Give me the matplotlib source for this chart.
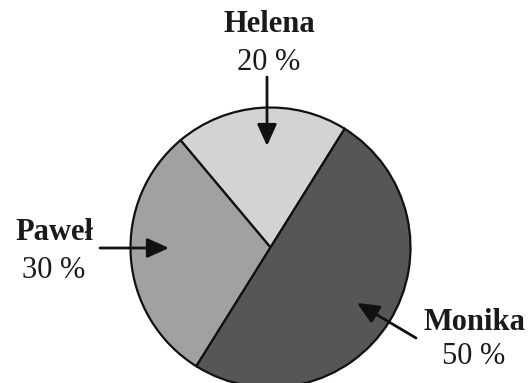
import matplotlib
matplotlib.use("Agg")
import matplotlib.pyplot as plt

names = ["Helena", "Paweł", "Monika"]
shares = [20, 30, 50]
colors = ["#d3d3d3", "#a1a1a1", "#565656"]

W, H = 531, 383
plt.rcParams['font.family'] = ['Liberation Serif', 'DejaVu Serif']

fig = plt.figure(figsize=(W / 100, H / 100), dpi=100)
ax = fig.add_axes([0, 0, 1, 1])

# pie in pixel-like coordinates (y up)
cx, cy, r = 270.5, H - 247.5, 140
ax.pie(shares, colors=colors, startangle=58, counterclock=True,
       center=(cx, cy), radius=r,
       wedgeprops=dict(edgecolor="#111111", linewidth=1.6))

ax.set_xlim(0, W)
ax.set_ylim(0, H)
ax.set_aspect('equal')
ax.axis('off')

txt = "#1a1a1a"
arrow = dict(arrowstyle='-|>,head_length=0.6,head_width=0.27', color="#111111",
             lw=2.0, mutation_scale=22, shrinkA=0, shrinkB=0)

# label positions: (name x, name y, value y) and arrow (tail, head)
labels = [
    (269, 25, 62, (267, 77), (267, 146)),
    (54, 233, 270, (100, 248), (169, 248)),
    (474, 323, 357, (416, 338), (357, 303)),
]

for (name, val), (lx, ny, vy, tail, head) in zip(zip(names, shares), labels):
    ax.text(lx, H - ny, name, ha='center', va='center', fontsize=22,
            fontweight='bold', color=txt)
    ax.text(lx, H - vy, f"{val} %", ha='center', va='center', fontsize=22,
            color=txt)
    ax.annotate("", xy=(head[0], H - head[1]), xytext=(tail[0], H - tail[1]),
                arrowprops=arrow)

fig.savefig("out.png", dpi=100, facecolor="white")
